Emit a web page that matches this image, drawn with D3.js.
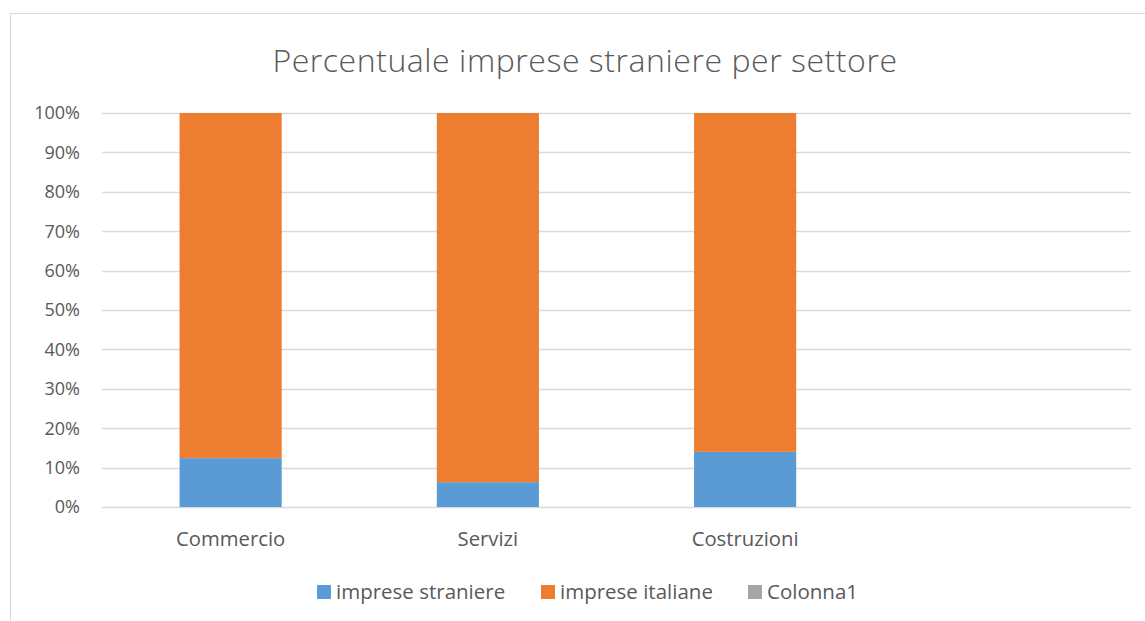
<!DOCTYPE html>
<html>
<head>
<meta charset="utf-8">
<script src="https://cdn.jsdelivr.net/npm/d3@7"></script>
<style>
  body { margin: 0; background: #fff; }
  text { font-family: "Open Sans", "Liberation Sans", sans-serif; fill: #595959; }
</style>
</head>
<body>
<script>
// data (percent)
const categories = ["Commercio", "Servizi", "Costruzioni", ""];
const seriesNames = ["imprese straniere", "imprese italiane", "Colonna1"];
const straniere = [12.4, 6.3, 14.0, 0];
const italiane = [87.6, 93.7, 86.0, 0];
const colonna1 = [0, 0, 0, 0];
const yTicks = [0, 10, 20, 30, 40, 50, 60, 70, 80, 90, 100];
const colors = ["#5b9bd5", "#ed7d31", "#a5a5a5"];

const w = 1145, h = 621;
const margin = { left: 102, right: 14, top: 113, bottom: 114 };

const svg = d3.select("body").append("svg")
  .attr("width", w)
  .attr("height", h);

// outer chart frame
svg.append("rect")
  .attr("x", 10.5).attr("y", 13.5)
  .attr("width", w + 20).attr("height", h + 20)
  .attr("fill", "#fff")
  .attr("stroke", "#d9d9d9");

const x = d3.scaleBand()
  .domain(categories.map((c, i) => i))
  .range([margin.left, w - margin.right])
  .paddingInner(0.603)
  .paddingOuter(0.3015);

const y = d3.scaleLinear()
  .domain([0, 100])
  .range([h - margin.bottom, margin.top]);

// gridlines
svg.append("g")
  .selectAll("line")
  .data(yTicks)
  .join("line")
  .attr("x1", margin.left).attr("x2", w - margin.right)
  .attr("y1", d => Math.round(y(d)) + 0.5)
  .attr("y2", d => Math.round(y(d)) + 0.5)
  .attr("stroke", "#d9d9d9")
  .attr("stroke-width", 1.3);

// y axis labels
svg.append("g")
  .selectAll("text")
  .data(yTicks)
  .join("text")
  .attr("x", 80)
  .attr("y", d => y(d))
  .attr("dy", "0.35em")
  .attr("text-anchor", "end")
  .attr("font-size", 18)
  .text(d => d + "%");

// stacked bars
const rows = categories.map((c, i) => ({
  i: i,
  "imprese straniere": straniere[i],
  "imprese italiane": italiane[i],
  "Colonna1": colonna1[i]
}));
const stacked = d3.stack().keys(seriesNames)(rows);

svg.append("g")
  .selectAll("g")
  .data(stacked)
  .join("g")
  .attr("fill", (d, k) => colors[k])
  .selectAll("rect")
  .data(d => d)
  .join("rect")
  .attr("x", d => x(d.data.i))
  .attr("width", x.bandwidth())
  .attr("y", d => y(d[1]))
  .attr("height", d => y(d[0]) - y(d[1]));

// category labels
svg.append("g")
  .selectAll("text")
  .data(categories)
  .join("text")
  .attr("x", (d, i) => x(i) + x.bandwidth() / 2)
  .attr("y", 539)
  .attr("dy", "0.35em")
  .attr("text-anchor", "middle")
  .attr("font-size", 20.3)
  .text(d => d);

// title
svg.append("text")
  .attr("x", 585)
  .attr("y", 72)
  .attr("text-anchor", "middle")
  .attr("font-size", 32)
  .attr("font-weight", 300)
  .attr("letter-spacing", 0.55)
  .text("Percentuale imprese straniere per settore");

// legend
const legendX = [317, 541, 748];
const legend = svg.append("g")
  .selectAll("g")
  .data(seriesNames)
  .join("g")
  .attr("transform", (d, i) => `translate(${legendX[i]},585)`);
legend.append("rect")
  .attr("width", 14).attr("height", 14)
  .attr("fill", (d, i) => colors[i]);
legend.append("text")
  .attr("x", 19)
  .attr("y", 7)
  .attr("dy", "0.35em")
  .attr("font-size", 20.5)
  .text(d => d);
</script>
</body>
</html>
